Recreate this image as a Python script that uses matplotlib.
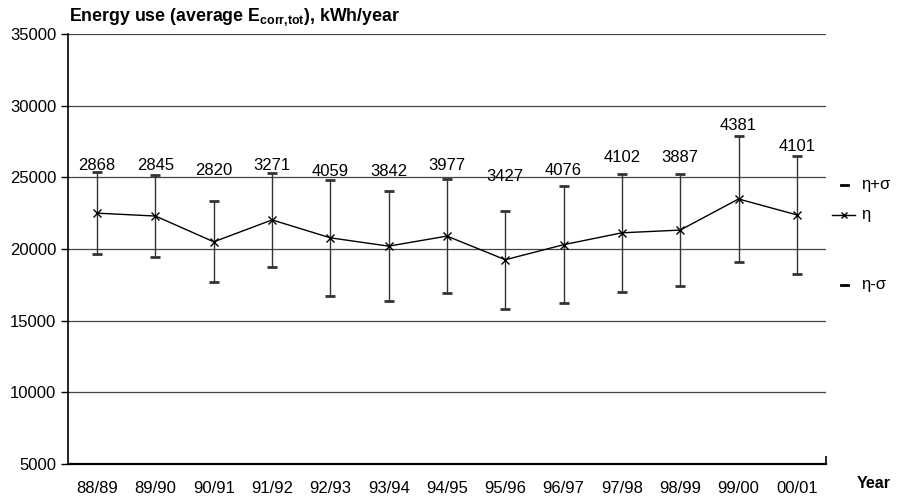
import matplotlib
matplotlib.use("Agg")
import matplotlib.pyplot as plt
import numpy as np

plt.rcParams["font.family"] = ["Liberation Sans", "DejaVu Sans"]
plt.rcParams["mathtext.default"] = "regular"

years = ["88/89", "89/90", "90/91", "91/92", "92/93", "93/94", "94/95",
         "95/96", "96/97", "97/98", "98/99", "99/00", "00/01"]
mean_use = [22500, 22300, 20500, 22030, 20780, 20200, 20900,
            19250, 20300, 21130, 21320, 23490, 22380]
sigma = [2868, 2845, 2820, 3271, 4059, 3842, 3977,
         3427, 4076, 4102, 3887, 4381, 4101]
# heights (kWh/year) where the sigma labels sit in the original
label_heights = [25800, 25800, 25450, 25800, 25400, 25400, 25800,
                 25050, 25450, 26350, 26350, 28650, 27150]

x = np.arange(len(years))
mean_arr = np.array(mean_use)
sig_arr = np.array(sigma)

fig = plt.figure(figsize=(9, 4.99), dpi=100)
ax = fig.add_axes([68 / 900, 1 - 464 / 499, (826 - 68) / 900, (464 - 34) / 499])

ax.set_ylim(5000, 35000)
ax.set_xlim(-0.5, len(years) - 0.5)
ax.set_yticks(np.arange(5000, 35001, 5000))
for g in range(10000, 35001, 5000):
    ax.axhline(g, color="#444444", lw=0.9, zorder=1)

ax.errorbar(x, mean_arr, yerr=sig_arr, fmt="none", ecolor="#333333",
            elinewidth=1.0, capsize=3.5, capthick=2.0, zorder=2)
ax.plot(x, mean_arr, color="black", lw=1.0, marker="x", ms=6, mew=1.0, zorder=3)

for xi, s, h in zip(x, sigma, label_heights):
    ax.text(xi, h, str(s), ha="center", va="center", fontsize=12)

for side in ["top", "right"]:
    ax.spines[side].set_visible(False)
ax.spines["left"].set_linewidth(1.2)
ax.spines["bottom"].set_linewidth(1.6)

ax.set_xticks(x)
ax.set_xticklabels(years)
ax.tick_params(axis="x", length=0, labelsize=12, pad=12)
ax.tick_params(axis="y", length=5, width=1.0, labelsize=12, direction="out")
ax.set_xticks([len(years) - 0.5], minor=True)
ax.tick_params(axis="x", which="minor", direction="in", length=6, width=1.2)

fig.text(69 / 900, 1 - 17 / 499, r"Energy use (average E$_{corr{,}tot}$), kWh/year",
         fontsize=12.8, fontweight="bold", ha="left", va="center")
fig.text(874 / 900, 1 - 483 / 499, "Year", fontsize=11.5, fontweight="bold",
         ha="center", va="center")

# manual legend on the right
tr = fig.transFigure
leg_items = [(185, "η+σ"), (215, "η"), (285, "η-σ")]
for ypix, lab in leg_items:
    yf = 1 - ypix / 499
    if lab == "η":
        fig.add_artist(plt.Line2D([832 / 900, 855 / 900], [yf, yf], color="black",
                                  lw=1.0, transform=tr))
        fig.add_artist(plt.Line2D([843.5 / 900], [yf], color="black", marker="x",
                                  ms=5, mew=1.0, transform=tr))
    else:
        fig.add_artist(plt.Line2D([841 / 900, 848 / 900], [yf, yf], color="black",
                                  lw=2.0, transform=tr))
    fig.text(861 / 900, yf, lab, fontsize=12, ha="left", va="center")

fig.savefig("out.png", dpi=100)
